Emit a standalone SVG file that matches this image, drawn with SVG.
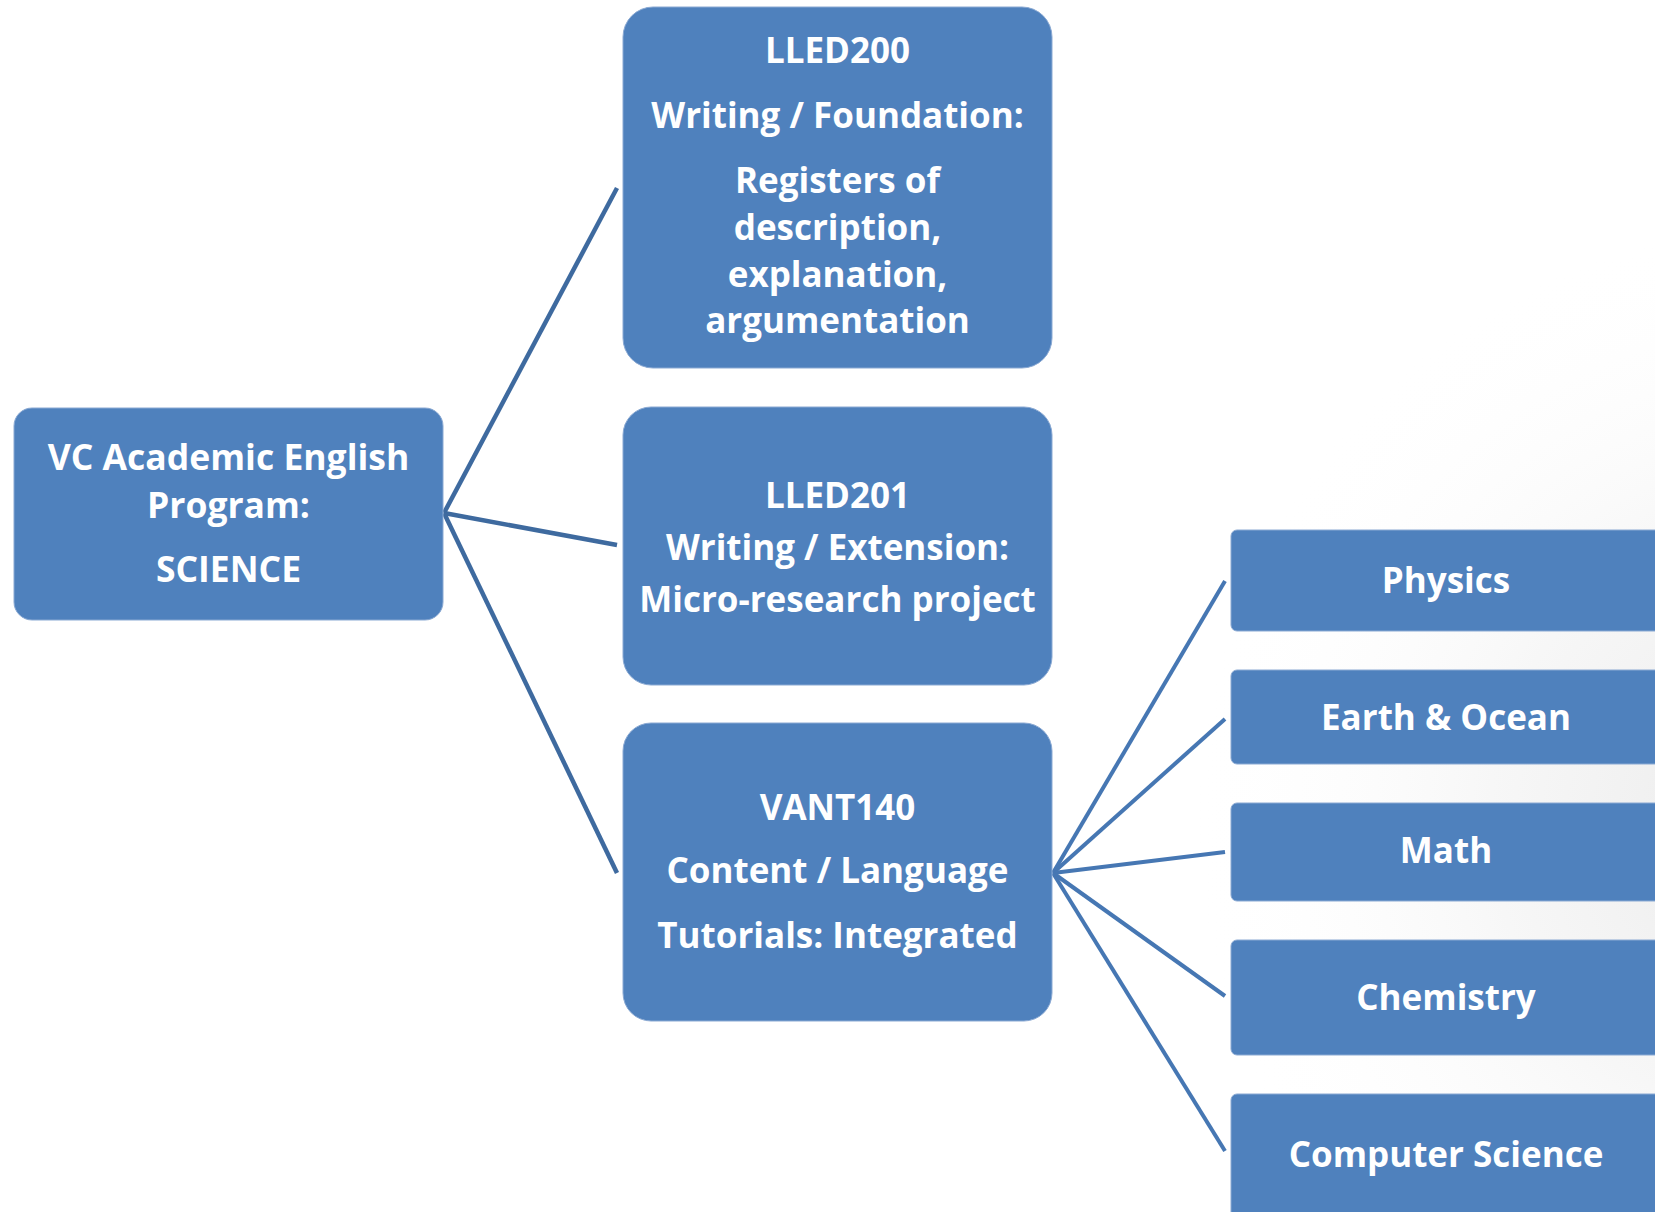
<svg xmlns="http://www.w3.org/2000/svg" width="1655" height="1212" viewBox="0 0 1655 1212">
  <defs>
    <radialGradient id="sheen" cx="1790" cy="820" r="600" gradientUnits="userSpaceOnUse">
      <stop offset="0" stop-color="#ebebeb"/>
      <stop offset="0.5" stop-color="#f7f7f7"/>
      <stop offset="1" stop-color="#ffffff" stop-opacity="0"/>
    </radialGradient>
    <style>
      .box { fill: #4f81bd; stroke: #8aa9d3; stroke-width: 1; }
      .lbl { fill: #ffffff; font-family: "Open Sans", Lato, "Liberation Sans", sans-serif; font-weight: 700; font-size: 35px; text-anchor: middle; }
      .root { font-size: 35.5px; }
      .link-l { stroke: #3e6a9f; stroke-width: 4.5; fill: none; }
      .link-r { stroke: #4677b3; stroke-width: 4; fill: none; }
    </style>
  </defs>

  <!-- background -->
  <rect x="0" y="0" width="1655" height="1212" fill="#ffffff"/>
  <rect x="1100" y="0" width="555" height="1212" fill="url(#sheen)"/>

  <!-- connectors -->
  <g id="connectors">
    <line class="link-l" x1="444" y1="513" x2="617" y2="188"/>
    <line class="link-l" x1="444" y1="513" x2="617" y2="545"/>
    <line class="link-l" x1="444" y1="513" x2="617" y2="873"/>
    <line class="link-r" x1="1053" y1="873" x2="1225" y2="581"/>
    <line class="link-r" x1="1053" y1="873" x2="1225" y2="719"/>
    <line class="link-r" x1="1053" y1="873" x2="1225" y2="852"/>
    <line class="link-r" x1="1053" y1="873" x2="1225" y2="996"/>
    <line class="link-r" x1="1053" y1="873" x2="1225" y2="1151"/>
  </g>

  <!-- root -->
  <g id="program">
    <rect class="box" x="14" y="408" width="429" height="212" rx="18"/>
    <text class="lbl root" x="228.5" y="470">VC Academic English</text>
    <text class="lbl root" x="228.5" y="518">Program:</text>
    <text class="lbl root" x="228.5" y="582">SCIENCE</text>
  </g>

  <!-- courses -->
  <g id="lled200">
    <rect class="box" x="623" y="7" width="429" height="361" rx="30"/>
    <text class="lbl" x="837.5" y="63">LLED200</text>
    <text class="lbl" x="837.5" y="128">Writing / Foundation:</text>
    <text class="lbl" x="837.5" y="193">Registers of</text>
    <text class="lbl" x="837.5" y="240">description,</text>
    <text class="lbl" x="837.5" y="287">explanation,</text>
    <text class="lbl" x="837.5" y="333">argumentation</text>
  </g>

  <g id="lled201">
    <rect class="box" x="623" y="407" width="429" height="278" rx="28"/>
    <text class="lbl" x="837.5" y="508">LLED201</text>
    <text class="lbl" x="837.5" y="560">Writing / Extension:</text>
    <text class="lbl" x="837.5" y="612">Micro-research project</text>
  </g>

  <g id="vant140">
    <rect class="box" x="623" y="723" width="429" height="298" rx="28"/>
    <text class="lbl" x="837.5" y="820">VANT140</text>
    <text class="lbl" x="837.5" y="883">Content / Language</text>
    <text class="lbl" x="837.5" y="948">Tutorials: Integrated</text>
  </g>

  <!-- disciplines -->
  <g id="physics">
    <rect class="box" x="1231" y="530" width="480" height="101" rx="6"/>
    <text class="lbl" x="1446" y="593">Physics</text>
  </g>
  <g id="earth-ocean">
    <rect class="box" x="1231" y="670" width="480" height="94" rx="6"/>
    <text class="lbl" x="1446" y="730">Earth &amp; Ocean</text>
  </g>
  <g id="math">
    <rect class="box" x="1231" y="803" width="480" height="98" rx="6"/>
    <text class="lbl" x="1446" y="863">Math</text>
  </g>
  <g id="chemistry">
    <rect class="box" x="1231" y="940" width="480" height="115" rx="6"/>
    <text class="lbl" x="1446" y="1010">Chemistry</text>
  </g>
  <g id="computer-science">
    <rect class="box" x="1231" y="1094" width="480" height="140" rx="6"/>
    <text class="lbl" x="1446" y="1167">Computer Science</text>
  </g>
</svg>
